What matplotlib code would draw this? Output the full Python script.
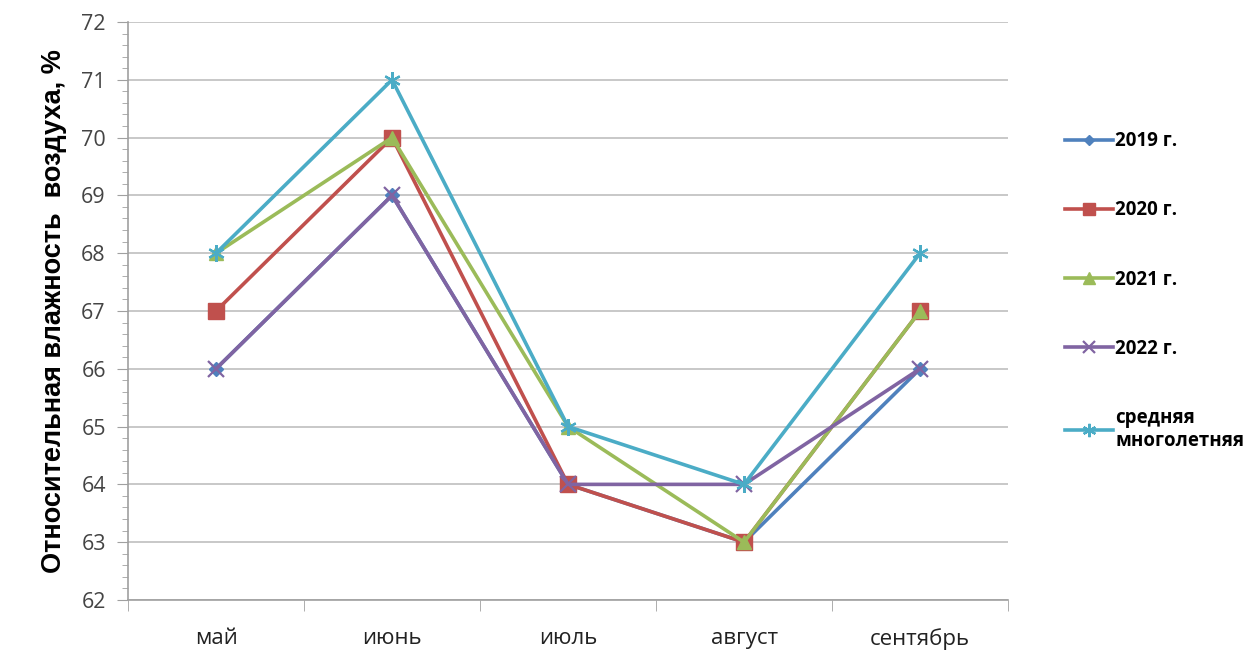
import matplotlib
matplotlib.use("Agg")
import matplotlib.pyplot as plt
from matplotlib.ticker import MultipleLocator

months = ["май", "июнь", "июль", "август", "сентябрь"]
y2019 = [66, 69, 64, 63, 66]
y2020 = [67, 70, 64, 63, 67]
y2021 = [68, 70, 65, 63, 67]
y2022 = [66, 69, 64, 64, 66]
y_mean = [68, 71, 65, 64, 68]

labels = ["2019 г.", "2020 г.", "2021 г.", "2022 г.", "средняя\nмноголетняя"]
colors = ["#4F81BD", "#C0504D", "#9BBB59", "#8064A2", "#4BACC6"]

plt.rcParams["font.family"] = ["Open Sans", "DejaVu Sans"]

fig = plt.figure(figsize=(12.59, 6.54), dpi=100)
ax = fig.add_axes([0.1017, 0.0826, 0.699, 0.8838])

x = list(range(len(months)))
series = [y2019, y2020, y2021, y2022, y_mean]
markers = ["D", "s", "^", "x", "*"]
msizes = [7, 11, 10, 11, 12]

for vals, lab, col, mk, ms in zip(series, labels, colors, markers, msizes):
    kw = dict(color=col, linewidth=2.6, marker=mk, markersize=ms, label=lab)
    if mk in ("x", "*"):
        kw.update(markeredgewidth=1.6)
    if mk == "*":
        kw.update(marker=(6, 2, 0), markeredgecolor=col)
    ax.plot(x, vals, **kw)

ax.set_xlim(-0.5, len(months) - 0.5)
ax.set_ylim(62, 72)
ax.yaxis.set_major_locator(MultipleLocator(1))
ax.yaxis.set_minor_locator(MultipleLocator(0.2))
ax.set_xticks(x)
ax.set_xticklabels(months, fontsize=16, color="#222222")
ax.set_xticks([i - 0.5 for i in range(len(months) + 1)], minor=True)
ax.tick_params(axis="x", which="major", length=0, pad=20)
ax.tick_params(axis="x", which="minor", length=8, color="#A0A0A0")
ax.tick_params(axis="y", which="major", length=8, color="#A0A0A0",
               labelsize=15.5, labelcolor="#444444", pad=8)
ax.tick_params(axis="y", which="minor", length=4, color="#A0A0A0")
ax.grid(axis="y", which="major", color="#BFBFBF", linewidth=1.2)
ax.set_axisbelow(True)
for s in ["top", "right"]:
    ax.spines[s].set_visible(False)
for s in ["left", "bottom"]:
    ax.spines[s].set_color("#A0A0A0")
    ax.spines[s].set_linewidth(1.2)

ax.set_ylabel("Относительная влажность  воздуха, %", fontsize=19.5,
              fontweight="bold", labelpad=10, family="Liberation Sans")

leg = ax.legend(loc="upper left", bbox_to_anchor=(1.045, 0.84), frameon=False,
                prop={"size": 13.5, "weight": "bold"}, labelspacing=2.62,
                handlelength=2.6, handletextpad=0.1, markerscale=0.8)

fig.savefig("out.png", dpi=100)
